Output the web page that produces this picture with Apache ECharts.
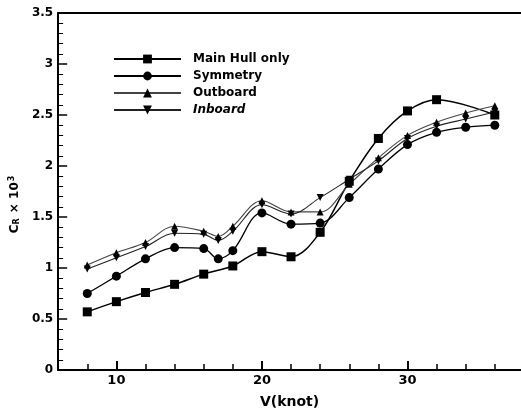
<!DOCTYPE html>
<html>
<head>
<meta charset="utf-8">
<script src="https://cdn.jsdelivr.net/npm/echarts@6/dist/echarts.min.js"></script>
<style>
  html, body { margin: 0; padding: 0; background: #fff; }
  #chart { width: 521px; height: 414px; }
</style>
</head>
<body>
<div id="chart"></div>
<script>
// Residuary resistance coefficient vs. speed for four hull configurations
const speedMainHull = [8, 10, 12, 14, 16, 18, 20, 22, 24, 26, 28, 30, 32, 36];
const crMainHull    = [0.57, 0.67, 0.76, 0.84, 0.94, 1.02, 1.16, 1.11, 1.35, 1.85, 2.27, 2.54, 2.65, 2.50];

const speedSide = [8, 10, 12, 14, 16, 17, 18, 20, 22, 24, 26, 28, 30, 32, 34, 36];
const crSymmetry = [0.75, 0.92, 1.09, 1.20, 1.19, 1.09, 1.17, 1.54, 1.43, 1.44, 1.69, 1.97, 2.21, 2.33, 2.38, 2.40];
const crOutboard = [1.03, 1.15, 1.25, 1.41, 1.36, 1.31, 1.41, 1.66, 1.55, 1.55, 1.82, 2.08, 2.30, 2.43, 2.52, 2.59];
const crInboard  = [0.99, 1.10, 1.21, 1.34, 1.33, 1.27, 1.36, 1.62, 1.53, 1.69, 1.87, 2.05, 2.27, 2.39, 2.46, 2.53];

const seriesNames = ['Main Hull only', 'Symmetry', 'Outboard', 'Inboard'];
const xLabelValues = [10, 20, 30];

const pairs = (xs, ys) => xs.map((x, i) => [x, ys[i]]);

const FONT = '"DejaVu Sans", sans-serif';
const X_MIN = 6, X_MAX = 37.8;
const chart = echarts.init(document.getElementById('chart'), null, { renderer: 'canvas' });

function lineSeries(name, data, symbol, size, color, width, rotate) {
  return {
    name: name,
    type: 'line',
    data: data,
    smooth: 0.35,
    symbol: symbol,
    symbolSize: size,
    symbolRotate: rotate || 0,
    showAllSymbol: true,
    itemStyle: { color: '#000' },
    lineStyle: { color: color, width: width },
    emphasis: { disabled: true },
    z: 3
  };
}

chart.setOption({
  animation: false,
  backgroundColor: '#fff',
  grid: { left: 54, right: 0, top: 13, bottom: 43 },
  legend: {
    orient: 'vertical',
    left: 113, top: 53, padding: 0,
    itemWidth: 67, itemHeight: 11, itemGap: 5,
    textStyle: {
      fontFamily: FONT, fontWeight: 'bold', fontSize: 12, lineHeight: 11,
      color: '#000', padding: [0, 0, 0, 7]
    },
    data: [
      { name: seriesNames[0] },
      { name: seriesNames[1] },
      { name: seriesNames[2] },
      { name: seriesNames[3], textStyle: { fontStyle: 'italic' } }
    ]
  },
  xAxis: [
    {
      type: 'value', min: X_MIN, max: X_MAX, interval: 2,
      name: 'V(knot)', nameLocation: 'middle', nameGap: 25,
      nameTextStyle: { fontFamily: FONT, fontWeight: 'bold', fontSize: 14, color: '#000' },
      axisLine: { show: true, lineStyle: { color: '#000', width: 2 } },
      axisTick: { show: true, inside: true, length: 6, lineStyle: { color: '#000', width: 1.5 } },
      axisLabel: {
        show: true, margin: 4, color: '#000',
        fontFamily: FONT, fontWeight: 'bold', fontSize: 13,
        showMaxLabel: false,
        formatter: v => (xLabelValues.indexOf(v) >= 0 ? String(v) : '')
      },
      splitLine: { show: false }
    },
    {
      // longer ticks at the labelled speeds
      type: 'value', min: X_MIN, max: X_MAX, position: 'bottom',
      axisLine: { show: false },
      axisTick: { show: true, inside: true, length: 9, customValues: xLabelValues, lineStyle: { color: '#000', width: 2 } },
      axisLabel: { show: false },
      splitLine: { show: false }
    },
    {
      // frame line along the top of the plot
      type: 'value', min: X_MIN, max: X_MAX, position: 'top',
      axisLine: { show: true, onZero: false, lineStyle: { color: '#000', width: 2 } },
      axisTick: { show: false },
      axisLabel: { show: false },
      splitLine: { show: false }
    }
  ],
  yAxis: {
    type: 'value', min: 0, max: 3.5, interval: 0.5,
    name: '{b|C}{s|R}{b| × 10}{p|3}',
    nameLocation: 'middle', nameGap: 32, nameRotate: 90,
    nameTextStyle: {
      color: '#000', padding: [0, 26, 0, 0],
      rich: {
        b: { fontFamily: FONT, fontWeight: 'bold', fontSize: 12, color: '#000' },
        s: { fontFamily: FONT, fontWeight: 'bold', fontSize: 8, color: '#000', verticalAlign: 'bottom', padding: [4, 1, 0, 0] },
        p: { fontFamily: FONT, fontWeight: 'bold', fontSize: 8, color: '#000', verticalAlign: 'top', padding: [0, 0, 5, 1] }
      }
    },
    axisLine: { show: true, lineStyle: { color: '#000', width: 2 } },
    axisTick: { show: true, inside: true, length: 9, lineStyle: { color: '#000', width: 1.5 } },
    minorTick: { show: true, splitNumber: 5, length: 5, lineStyle: { color: '#000', width: 1 } },
    axisLabel: {
      margin: 5, color: '#000',
      fontFamily: FONT, fontWeight: 'bold', fontSize: 12
    },
    splitLine: { show: false }
  },
  series: [
    lineSeries(seriesNames[0], pairs(speedMainHull, crMainHull), 'rect', 9, '#000', 1.5),
    lineSeries(seriesNames[1], pairs(speedSide, crSymmetry), 'circle', 9, '#000', 1.3),
    lineSeries(seriesNames[2], pairs(speedSide, crOutboard), 'triangle', 7, '#444', 1.1),
    lineSeries(seriesNames[3], pairs(speedSide, crInboard), 'triangle', 7, '#222', 1.1, 180)
  ]
});
</script>
</body>
</html>
